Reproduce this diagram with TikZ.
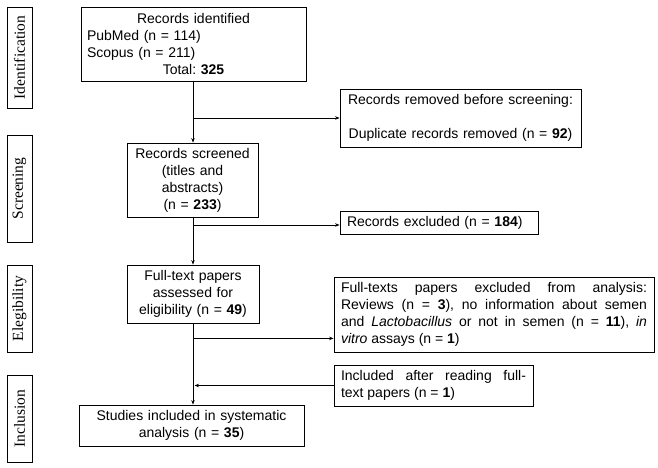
\documentclass[tikz,border=0pt]{standalone}
\usepackage{fontspec}
\setmainfont{Liberation Sans}
\newfontfamily\sidefont{Liberation Serif}
\usetikzlibrary{arrows.meta}
\frenchspacing
\begin{document}
\begin{tikzpicture}[x=1pt,y=-1pt,
  box/.style={draw,line width=0.8pt,inner xsep=6pt,inner ysep=2pt,
    font=\fontsize{14}{17}\selectfont},
  side/.style={draw,line width=0.8pt,rotate=90,inner sep=1pt,
    minimum height=25pt,font=\sidefont\fontsize{15.5}{17}\selectfont},
  arr/.style={line width=0.8pt,-{Stealth[length=4.5pt,width=3.5pt]}}]
\useasboundingbox (0,0) rectangle (658,467);
% side labels
\node[side,minimum width=101pt] (sid) at (19.5,57.5) {Identification};
\node[side,minimum width=107pt] (ssc) at (19.5,188.5) {Screening};
\node[side,minimum width=87pt] (sel) at (19.5,308.5) {Elegibility};
\node[side,minimum width=87pt] (sin) at (19.5,418.5) {Inclusion};
% main boxes
\node[box,text width=213pt,minimum height=74pt] (ident) at (193.5,44)
  {{\centering Records identified\par}
   {\raggedright PubMed (n = 114)\\Scopus (n = 211)\par}
   {\centering Total: \textbf{325}\par}};
\node[box,text width=131pt-12pt,align=center,minimum height=74pt] (screened) at (192.5,180)
  {Records screened\\(titles and\\abstracts)\\(n = \textbf{233})};
\node[box,text width=132pt-12pt,align=center,minimum height=58pt] (full) at (193,294)
  {Full-text papers\\assessed for\\eligibility (n = \textbf{49})};
\node[box,text width=225pt-12pt,align=center,minimum height=41pt] (studies) at (191.5,425.5)
  {Studies included in systematic\\analysis (n = \textbf{35})};
% side boxes
\node[box,text width=241pt-12pt,align=center,minimum height=58pt] (removed) at (460.5,118)
  {Records removed before screening:\\[17pt]Duplicate records removed (n = \textbf{92})};
\node[box,inner xsep=7pt,text width=198pt-14pt,align=left,minimum height=23pt,inner ysep=1pt] (excl) at (439,222.5)
  {Records excluded (n = \textbf{184})};
\node[box,inner xsep=7pt,text width=320pt-14pt,align=justify,minimum height=75pt] (ftexcl) at (494,314.5)
  {Full-texts papers excluded from analysis:\linebreak
   Reviews (n = \textbf{3}), no information about semen\linebreak
   and \textit{Lactobacillus} or not in semen (n = \textbf{11}), \textit{in}\linebreak
   \textit{vitro} assays (n = \textbf{1})};
\node[box,inner xsep=7pt,text width=199pt-14pt,align=justify,minimum height=41pt] (incl) at (433.5,385.5)
  {Included after reading full-\linebreak text papers (n = \textbf{1})};
% main line
\coordinate (m) at (193,0);
\draw[arr] (ident.south -| m) -- (screened.north -| m);
\draw[arr] (screened.south -| m) -- (full.north -| m);
\draw[arr] (full.south -| m) -- (studies.north -| m);
% branches
\draw[arr] (removed.west -| m) -- (removed.west);
\draw[arr] ([yshift=-2.5pt]excl.west -| m) -- ([yshift=-2.5pt]excl.west);
\draw[arr] ([yshift=14pt]ftexcl.south west -| m) -- ([yshift=14pt]ftexcl.south west);
\draw[arr] (incl.west) -- ([xshift=1.5pt]incl.west -| m);
\end{tikzpicture}
\end{document}
